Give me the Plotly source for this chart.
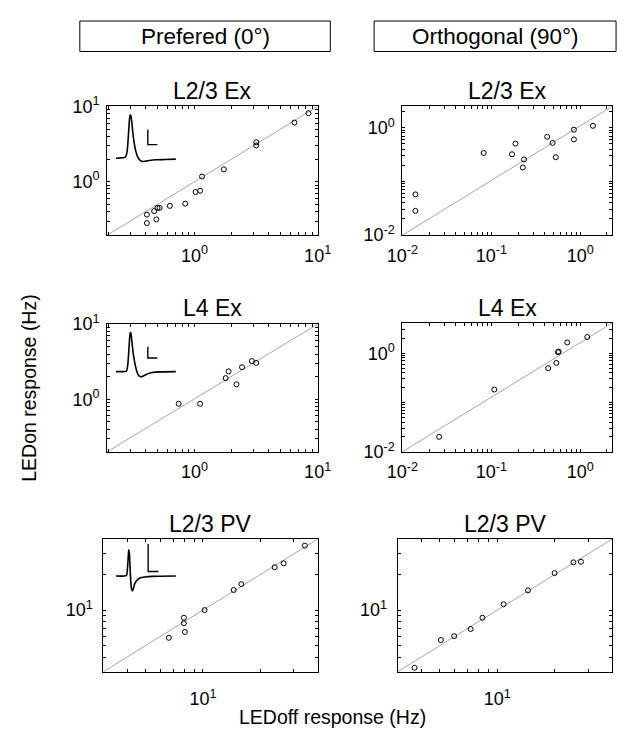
import numpy as np
import plotly.graph_objects as go

W, H = 631, 738
FONT = "Liberation Sans, Arial, sans-serif"

# Firing rates (Hz): x = LEDoff response, y = LEDon response
pref_l23ex_off = [0.41, 0.41, 0.47, 0.49, 0.50, 0.52, 0.63, 0.84, 1.02, 1.11, 1.15, 1.73, 3.17, 3.17, 6.48, 8.42]
pref_l23ex_on = [0.365, 0.282, 0.407, 0.315, 0.449, 0.449, 0.477, 0.511, 0.729, 0.758, 1.17, 1.46, 3.34, 3.03, 6.10, 8.13]

orth_l23ex_off = [0.014, 0.014, 0.082, 0.171, 0.187, 0.233, 0.226, 0.425, 0.489, 0.531, 0.849, 0.849, 1.39]
orth_l23ex_on = [0.0574, 0.0283, 0.339, 0.321, 0.507, 0.257, 0.182, 0.678, 0.521, 0.283, 0.920, 0.607, 1.087]

pref_l4ex_off = [0.743, 1.11, 1.79, 1.89, 2.19, 2.43, 2.92, 3.17]
pref_l4ex_on = [0.870, 0.870, 1.91, 2.35, 1.58, 2.67, 3.23, 3.04]

orth_l4ex_off = [0.0259, 0.108, 0.436, 0.539, 0.562, 0.572, 0.714, 1.20]
orth_l4ex_on = [0.0201, 0.183, 0.498, 0.635, 1.047, 1.08, 1.65, 2.13]

pref_l23pv_off = [6.62, 7.94, 7.94, 8.04, 10.2, 14.5, 15.9, 23.8, 26.5, 34.3]
pref_l23pv_on = [5.82, 8.61, 7.74, 6.53, 10.0, 14.8, 16.6, 23.1, 24.9, 35.2]

orth_l23pv_off = [3.68, 5.06, 5.94, 7.25, 8.36, 10.8, 14.5, 20.0, 25.1, 27.5]
orth_l23pv_on = [3.24, 5.57, 6.01, 6.91, 8.61, 11.2, 14.7, 20.6, 25.4, 25.7]

# Mean spike waveforms (time in ms, amplitude normalised to peak)
ex23_t = [0, 0.16, 0.266, 0.319, 0.372, 0.404, 0.436, 0.457, 0.479, 0.5, 0.532, 0.564, 0.606, 0.66,
          0.723, 0.798, 0.883, 0.989, 1.117, 1.33, 1.649, 2.0]
ex23_a = [0, 0.007, 0.015, 0.03, 0.164, 0.425, 0.761, 0.948, 1.0, 0.97, 0.799, 0.575, 0.351, 0.164,
          0.03, -0.045, -0.075, -0.067, -0.052, -0.037, -0.03, -0.022]

ex4_t = [0, 0.266, 0.351, 0.394, 0.426, 0.457, 0.479, 0.5, 0.532, 0.574, 0.628, 0.691, 0.755, 0.83,
         0.926, 1.064, 1.223, 1.436, 2.0]
ex4_a = [0, 0, 0.016, 0.18, 0.508, 0.877, 1.0, 0.959, 0.754, 0.467, 0.221, 0.016, -0.098, -0.131,
         -0.107, -0.057, -0.025, -0.008, 0]

pv_t = [0, 0.266, 0.351, 0.383, 0.415, 0.426, 0.447, 0.468, 0.489, 0.511, 0.543, 0.574, 0.617, 0.691,
        0.798, 0.957, 1.223, 2.0]
pv_a = [0, 0, 0.025, 0.296, 0.852, 1.0, 0.852, 0.358, -0.136, -0.444, -0.568, -0.506, -0.321, -0.173,
        -0.074, -0.037, -0.012, 0]

col_titles = ["Prefered (0°)", "Orthogonal (90°)"]
row_titles = ["L2/3 Ex", "L4 Ex", "L2/3 PV"]


def px_x(p):
    return p / W


def px_y(p):
    return 1 - p / H


def log_ticks(lo, hi, labelled):
    """Labelled decade ticks plus unlabelled minor ticks at 1..9 x 10^d."""
    major, text, minor = [], [], []
    for d in range(int(np.floor(lo)), int(np.ceil(hi)) + 1):
        for m in range(1, 10):
            v = m * 10.0 ** d
            lv = np.log10(v)
            if lo - 1e-6 <= lv <= hi + 1e-6:
                if m == 1 and d in labelled:
                    major.append(v)
                    text.append(f"10<sup>{d}</sup>")
                else:
                    minor.append(v)
    return major, text, minor


# panel: data, title, box in px (left, right, top, bottom), log ranges, labelled decades, label standoffs
panels = [
    (pref_l23ex_off, pref_l23ex_on, row_titles[0], (95.7, 316.7, 97.3, 230.0),
     [-0.71, 1.0], [-0.71, 1.0], [0, 1], [0, 1], 4, 3),
    (orth_l23ex_off, orth_l23ex_on, row_titles[0], (405.7, 625.7, 97.3, 230.0),
     [-2.0, 0.357], [-2.0, 0.398], [-2, -1, 0], [-2, 0], 4, 3),
    (pref_l4ex_off, pref_l4ex_on, row_titles[1], (95.7, 316.7, 321.7, 453.3),
     [-0.71, 1.0], [-0.70, 1.0], [0, 1], [0, 1], 4, 3),
    (orth_l4ex_off, orth_l4ex_on, row_titles[1], (405.7, 625.7, 320.7, 453.3),
     [-2.0, 0.357], [-2.0, 0.61], [-2, -1, 0], [-2, 0], 4, 3),
    (pref_l23pv_off, pref_l23pv_on, row_titles[2], (91.7, 316.7, 543.3, 680.0),
     [np.log10(3), np.log10(40)], [np.log10(3), np.log10(40)], [1], [1], 11, 6),
    (orth_l23pv_off, orth_l23pv_on, row_titles[2], (400.7, 625.7, 543.3, 680.0),
     [np.log10(3), np.log10(40)], [np.log10(3), np.log10(40)], [1], [1], 11, 6),
]
title_y = [81.5, 81.5, 305.5, 305.5, 528.0, 528.0]

fig = go.Figure()
layout = dict(
    width=W, height=H, margin=dict(l=0, r=0, t=0, b=0),
    paper_bgcolor="white", plot_bgcolor="white", showlegend=False,
    font=dict(family=FONT, color="black"),
)
shapes, annotations = [], []

axis_common = dict(
    type="log", showline=True, linecolor="black", linewidth=1, mirror="allticks",
    ticks="inside", ticklen=3, tickwidth=1, tickcolor="black", showgrid=False,
    zeroline=False, fixedrange=True, tickfont=dict(size=18, family=FONT, color="black"),
)

for i, (xv, yv, title, box, xr, yr, xlab, ylab, xso, yso) in enumerate(panels, start=1):
    sfx = "" if i == 1 else str(i)
    l, r, t, b = box
    xt, xtt, xm = log_ticks(xr[0], xr[1], xlab)
    yt, ytt, ym = log_ticks(yr[0], yr[1], ylab)
    layout[f"xaxis{sfx}"] = dict(
        axis_common, range=xr, domain=[px_x(l), px_x(r)], anchor=f"y{sfx}",
        tickvals=xt, ticktext=xtt, ticklabelstandoff=xso,
        minor=dict(tickvals=xm, ticks="inside", ticklen=3, tickwidth=1, tickcolor="black", showgrid=False))
    layout[f"yaxis{sfx}"] = dict(
        axis_common, range=yr, domain=[px_y(b), px_y(t)], anchor=f"x{sfx}",
        tickvals=yt, ticktext=ytt, ticklabelstandoff=yso,
        minor=dict(tickvals=ym, ticks="inside", ticklen=3, tickwidth=1, tickcolor="black", showgrid=False))
    # unity line across the axes box
    shapes.append(dict(type="line", xref=f"x{sfx} domain", yref=f"y{sfx} domain",
                       x0=0, y0=0, x1=1, y1=1, line=dict(color="#a6a6a6", width=1), layer="below"))
    fig.add_trace(go.Scatter(
        x=xv, y=yv, mode="markers", xaxis=f"x{sfx}", yaxis=f"y{sfx}",
        marker=dict(symbol="circle-open", size=5, color="black", line=dict(width=1)),
        hoverinfo="x+y",
    ))
    annotations.append(dict(text=title, xref="paper", yref="paper", x=px_x((l + r) / 2),
                            y=px_y(title_y[i - 1]), xanchor="center", yanchor="middle",
                            showarrow=False, font=dict(size=23, family=FONT, color="black")))

# spike waveform insets with scale bars
insets = [
    (ex23_t, ex23_a, (100.0, 170.0, 103.3, 156.7), [-0.16, 2.07], [-0.134, 1.06],
     (1.064, 0.313, 0.319, 0.351)),
    (ex4_t, ex4_a, (100.0, 170.0, 326.7, 378.3), [-0.16, 2.07], [-0.189, 1.082],
     (1.064, 0.344, 0.319, 0.287)),
    (pv_t, pv_a, (100.0, 170.0, 546.7, 600.0), [-0.16, 2.07], [-0.691, 1.284],
     (1.074, 0.173, 0.341, 1.049)),
]
for k, (tt, aa, box, xr, yr, bar) in enumerate(insets, start=7):
    l, r, t, b = box
    layout[f"xaxis{k}"] = dict(domain=[px_x(l), px_x(r)], range=xr, visible=False,
                               anchor=f"y{k}", fixedrange=True)
    layout[f"yaxis{k}"] = dict(domain=[px_y(b), px_y(t)], range=yr, visible=False,
                               anchor=f"x{k}", fixedrange=True)
    fig.add_trace(go.Scatter(x=tt, y=aa, mode="lines", xaxis=f"x{k}", yaxis=f"y{k}",
                             line=dict(color="black", width=1.6, shape="spline", smoothing=0.6),
                             hoverinfo="skip"))
    bx, by, bw, bh = bar
    fig.add_trace(go.Scatter(x=[bx, bx, bx + bw], y=[by + bh, by, by], mode="lines",
                             xaxis=f"x{k}", yaxis=f"y{k}",
                             line=dict(color="black", width=1.4), hoverinfo="skip"))

# column header boxes
for (l, r), txt in zip([(67.0, 330.0), (376.0, 630.0)], col_titles):
    shapes.append(dict(type="rect", xref="paper", yref="paper", x0=px_x(l), x1=px_x(r),
                       y0=px_y(40.7), y1=px_y(9.3), line=dict(color="black", width=1)))
    annotations.append(dict(text=txt, xref="paper", yref="paper", x=px_x((l + r) / 2), y=px_y(25.0),
                            xanchor="center", yanchor="middle", showarrow=False,
                            font=dict(size=22.5, family=FONT, color="black")))

annotations.append(dict(text="LEDon response (Hz)", xref="paper", yref="paper", x=px_x(14.0),
                        y=px_y(387.0), textangle=-90, xanchor="center", yanchor="middle",
                        showarrow=False, font=dict(size=19.5, family=FONT, color="black")))
annotations.append(dict(text="LEDoff response (Hz)", xref="paper", yref="paper", x=px_x(332.0),
                        y=px_y(727.0), xanchor="center", yanchor="middle",
                        showarrow=False, font=dict(size=19.5, family=FONT, color="black")))

layout["shapes"] = shapes
layout["annotations"] = annotations
fig.update_layout(**layout)
fig.write_html("out.html")
